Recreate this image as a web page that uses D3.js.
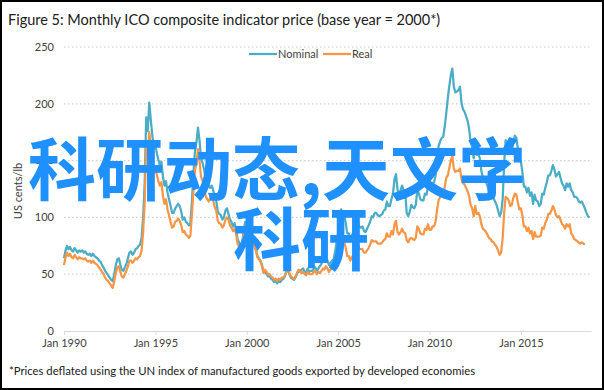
<!DOCTYPE html>
<html><head><meta charset="utf-8">
<script src="https://cdn.jsdelivr.net/npm/d3@7"></script>
<style>
html,body{margin:0;padding:0;background:#fff;}
svg{display:block;}
</style></head>
<body>
<svg id="c" width="604" height="390"></svg>
<script>
const title = "Figure 5: Monthly  ICO composite indicator price (base year = 2000*)";
const footnote = "*Prices deflated using the UN index of manufactured goods exported by developed economies";
const yLabel = "US cents/lb";
const seriesNames = ["Nominal", "Real"];
const yTicks = [0, 50, 100, 150, 200, 250];
const xTickYears = [1990, 1995, 2000, 2005, 2010, 2015];
const watermark1 = "科研动态,天文学";
const watermark2 = "科研";

// Monthly values from Jan 1990, one row per year (US cents/lb)
const nominalByYear = [
 [64,71,75,72,74,71,70,73,71,69,71,70],
 [71,69,70,68,67,68,66,68,66,65,64,62],
 [61,58,56,53,51,49,47,45,44,50,58,63],
 [64,58,54,53,56,59,64,69,70,67,69,72],
 [73,75,76,82,100,130,188,176,201,186,172,160],
 [164,156,151,146,149,136,128,132,122,116,110,104],
 [104,108,110,112,110,105,98,100,96,95,93,95],
 [115,140,158,166,179,168,152,148,142,133,130,128],
 [126,128,124,118,115,105,103,102,98,100,106,108],
 [103,98,96,92,95,90,81,78,75,78,88,96],
 [90,85,83,79,78,76,72,66,64,62,58,52],
 [52,50,48,48,46,45,43,44,42,44,43,45],
 [46,48,52,54,50,47,46,45,47,50,53,52],
 [54,55,52,51,55,52,53,53,55,56,53,55],
 [57,59,62,61,64,62,58,60,62,63,70,78],
 [87,98,107,103,103,95,86,86,80,84,87,89],
 [95,96,92,91,92,88,87,90,93,96,101,100],
 [104,104,102,101,102,103,106,107,114,110,110,116],
 [121,134,138,124,121,124,128,124,122,104,101,105],
 [111,109,108,111,124,121,116,115,115,121,120,127],
 [127,126,130,131,137,152,163,167,170,171,180,192],
 [205,216,225,231,215,210,211,212,215,201,195,193],
 [189,185,178,166,162,152,165,155,156,152,141,135],
 [133,131,128,123,121,118,117,114,111,106,101,104],
 [116,149,168,166,164,156,157,166,172,170,160,150],
 [149,139,127,127,122,126,119,122,112,120,115,114],
 [110,112,121,120,126,131,137,137,141,146,142,136],
 [138,140,135,130,128,124,130,127,130,124,122,118],
 [118,117,114,113,114,111,108,104,101,100]
];
const realByYear = [
 [58,65,69,66,68,65,64,67,65,63,65,64],
 [64,63,64,62,61,62,60,62,60,59,58,56],
 [54,52,50,47,45,44,42,40,38,44,51,56],
 [57,52,48,47,50,53,57,62,62,60,62,64],
 [63,65,66,71,87,113,163,153,175,162,150,139],
 [144,137,132,128,131,119,112,116,107,102,96,91],
 [92,96,97,99,97,93,87,88,85,84,82,84],
 [103,125,141,148,160,150,136,132,127,119,116,114],
 [117,119,115,109,106,97,95,94,91,93,98,100],
 [98,93,91,88,90,86,77,74,71,74,84,91],
 [89,84,82,78,77,75,71,65,63,61,57,51],
 [54,52,50,50,48,47,45,46,44,46,45,47],
 [47,49,53,55,51,48,47,46,48,51,54,53],
 [51,52,50,49,52,50,50,50,52,53,50,52],
 [51,53,55,54,57,55,52,54,55,56,62,69],
 [67,75,82,79,79,73,66,66,62,65,67,68],
 [75,76,72,72,72,69,69,71,73,76,80,79],
 [79,79,77,77,77,78,80,81,86,83,83,88],
 [85,94,97,87,85,87,90,87,86,80,78,81],
 [82,81,80,82,92,90,86,85,85,90,89,94],
 [89,89,92,92,96,107,115,118,120,120,127,135],
 [137,144,150,154,143,140,141,141,143,134,130,129],
 [126,123,119,111,108,101,110,103,104,101,94,90],
 [89,87,85,82,81,79,78,76,74,71,67,69],
 [82,105,118,117,115,110,111,117,121,120,113,107],
 [108,101,92,92,88,91,86,88,81,87,83,83],
 [83,84,91,90,95,98,103,103,106,110,107,102],
 [100,101,98,94,93,90,94,92,94,86,84,81],
 [80,79,78,77,78,77,76]
];

const nominal = nominalByYear.flat();
const real = realByYear.flat();
const toPoints = arr => arr.map((v, i) => ({date: new Date(1990, i, 1), value: v}));

const svg = d3.select("#c");
const W = 604, H = 390;
const font = "Lato, 'Open Sans', sans-serif";

svg.append("rect").attr("x",1).attr("y",1).attr("width",W-2).attr("height",H-2)
  .attr("fill","#fff").attr("stroke","#000").attr("stroke-width",2);

const x = d3.scaleTime().domain([new Date(1990,0,1), new Date(2018,10,1)]).range([64, 591]);
const y = d3.scaleLinear().domain([0,250]).range([331, 47]);

// gridlines
svg.append("g").selectAll("line").data(yTicks.filter(d=>d>0)).join("line")
  .attr("x1",64).attr("x2",591).attr("y1",d=>y(d)).attr("y2",d=>y(d))
  .attr("stroke","#d0d0d0").attr("stroke-width",1.2).attr("stroke-dasharray","1.5,2.5");

// y labels
svg.append("g").selectAll("text").data(yTicks).join("text")
  .attr("x",54).attr("y",d=>y(d)).attr("dy","0.35em").attr("text-anchor","end")
  .attr("font-family",font).attr("font-size",11).attr("fill","#404040").text(d=>d);

// x axis
const xAxis = d3.axisBottom(x)
  .tickValues(xTickYears.map(yr => new Date(yr,0,1)))
  .tickFormat(d => "Jan " + d.getFullYear())
  .tickSizeInner(4).tickSizeOuter(0).tickPadding(4);
const gx = svg.append("g").attr("transform",`translate(0,${y(0)})`).call(xAxis);
gx.select(".domain").attr("stroke","#d9d9d9");
gx.selectAll(".tick line").attr("stroke","#d9d9d9");
gx.selectAll(".tick text").attr("font-family",font).attr("font-size",11).attr("fill","#404040");

// lines
const line = d3.line().x(d=>x(d.date)).y(d=>y(d.value));
const colors = ["#4BACC6", "#F79646"];
[nominal, real].forEach((arr, k) => {
  svg.append("path").datum(toPoints(arr)).attr("d", line)
    .attr("fill","none").attr("stroke",colors[k]).attr("stroke-width",2.25)
    .attr("stroke-linejoin","round");
});

// legend
const legendItems = [{x:249, w:28}, {x:323, w:28}];
legendItems.forEach((it, k) => {
  svg.append("line").attr("x1",it.x).attr("x2",it.x+it.w).attr("y1",54).attr("y2",54)
    .attr("stroke",colors[k]).attr("stroke-width",2.25);
  svg.append("text").attr("x",it.x+it.w+1).attr("y",54).attr("dy","0.35em")
    .attr("font-family",font).attr("font-size",11).attr("fill","#404040").text(seriesNames[k]);
});

// axis title
svg.append("text").attr("transform","translate(22,191) rotate(-90)")
  .attr("text-anchor","middle").attr("font-family",font).attr("font-size",11)
  .attr("fill","#404040").text(yLabel);

// title
svg.append("text").attr("x",8).attr("y",25).attr("font-family",font).attr("font-size",14.5)
  .attr("fill","#202020").text(title);

// footnote
svg.append("text").attr("x",9).attr("y",375).attr("font-family",font).attr("font-size",11.3)
  .attr("fill","#202020").text(footnote);

// watermark overlay text
const wmFont = "'Noto Sans CJK SC', sans-serif";
svg.append("text").attr("x",28).attr("y",195).attr("font-family",wmFont).attr("font-weight",700)
  .attr("font-size",68).attr("fill","#1E90FF").text(watermark1);
svg.append("text").attr("x",233).attr("y",265).attr("font-family",wmFont).attr("font-weight",700)
  .attr("font-size",68).attr("fill","#1E90FF").text(watermark2);
</script>
</body></html>
